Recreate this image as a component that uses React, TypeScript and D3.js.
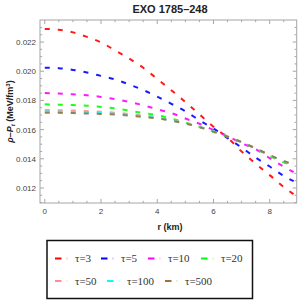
import React from 'react';
import * as d3 from 'd3';

const radius = [0, 0.5, 1, 1.5, 2, 2.5, 3, 3.5, 4, 4.5, 5, 5.5, 6, 6.5, 7, 7.5, 8, 8.5, 8.85];

const tau3 = [0.0229, 0.02284, 0.02266, 0.02235, 0.02198, 0.02143, 0.02087, 0.02024, 0.01947, 0.0187, 0.01789, 0.01705, 0.0162, 0.01545, 0.0145, 0.01366, 0.01288, 0.01206, 0.01157];
const tau5 = [0.02024, 0.02021, 0.02009, 0.01991, 0.01968, 0.01944, 0.01909, 0.01871, 0.01826, 0.01777, 0.01726, 0.01664, 0.01607, 0.01542, 0.01477, 0.01408, 0.01347, 0.01283, 0.01246];
const tau10 = [0.0185, 0.01847, 0.01842, 0.01835, 0.01824, 0.01809, 0.0179, 0.01767, 0.01739, 0.01713, 0.01676, 0.0164, 0.01597, 0.01556, 0.01506, 0.01466, 0.01404, 0.01346, 0.01308];
const tau20 = [0.01773, 0.01771, 0.01768, 0.01764, 0.01755, 0.01745, 0.0173, 0.01714, 0.01698, 0.01675, 0.01649, 0.01619, 0.01585, 0.01552, 0.01513, 0.0147, 0.0142, 0.01375, 0.0135];
const tau50 = [0.01734, 0.01733, 0.01731, 0.01727, 0.01722, 0.01716, 0.01707, 0.01697, 0.01684, 0.01667, 0.01646, 0.0162, 0.01588, 0.01553, 0.01514, 0.01471, 0.01424, 0.01383, 0.01358];
const tau100 = [0.01724, 0.01723, 0.01721, 0.01718, 0.01714, 0.01709, 0.01701, 0.01691, 0.01679, 0.01663, 0.01643, 0.01618, 0.01587, 0.01552, 0.01514, 0.01471, 0.01424, 0.01384, 0.01359];
const tau500 = [0.01716, 0.01715, 0.01713, 0.0171, 0.01707, 0.01703, 0.01696, 0.01687, 0.01676, 0.01661, 0.01641, 0.01617, 0.01586, 0.01552, 0.01514, 0.01472, 0.01425, 0.01385, 0.0136];

const seriesNames = ['τ=3', 'τ=5', 'τ=10', 'τ=20', 'τ=50', 'τ=100', 'τ=500'];
const seriesValues = [tau3, tau5, tau10, tau20, tau50, tau100, tau500];
const seriesColors = ['#ff0000', '#0000ff', '#ff00ff', '#00ff00', '#ff8f8f', '#00ffff', '#a0703c'];

const xTicks = [0, 2, 4, 6, 8];
const yTicks = [0.012, 0.014, 0.016, 0.018, 0.02, 0.022];

const left = 40;
const right = 296.7;
const top = 20;
const bottom = 203;

const App = () => {
  const x = d3.scaleLinear().domain([-0.17, 8.96]).range([left, right]);
  const y = d3.scaleLinear().domain([0.01097, 0.02351]).range([bottom, top]);

  const line = d3
    .line<number>()
    .x((d, i) => x(radius[i]))
    .y((d) => y(d))
    .curve(d3.curveMonotoneX);

  const xMinor = d3.range(0, 9.01, 0.5).filter((v) => x(v) < right - 1);
  const yMinor = d3.range(0.011, 0.0235, 0.0005);

  const frameColor = '#a6a6a6';
  const tickFont = { fontFamily: 'Liberation Sans, Arial, sans-serif', fontSize: 8, fill: '#444' };

  // legend placement (two rows)
  const legendRows = [
    [0, 1, 2, 3],
    [4, 5, 6]
  ];
  const legendX = [
    [55, 101, 148, 201],
    [55, 107, 165]
  ];
  const legendY = [258.5, 281];

  return (
    <svg width={300} height={300} style={{ position: 'absolute', left: 0, top: 0, background: '#fff' }}>
      <text x={170} y={13} textAnchor="middle" style={{ fontFamily: 'Liberation Sans, Arial, sans-serif', fontSize: 11, fontWeight: 700, fill: '#222' }}>
        EXO 1785–248
      </text>

      <rect x={left} y={top} width={right - left} height={bottom - top} fill="none" stroke={frameColor} strokeWidth={1} />

      {xMinor.map((v) => {
        const major = Math.abs(v % 2) < 1e-6;
        const len = major ? 4 : 2.2;
        return (
          <g key={'xt' + v}>
            <line x1={x(v)} x2={x(v)} y1={bottom} y2={bottom - len} stroke={frameColor} />
            <line x1={x(v)} x2={x(v)} y1={top} y2={top + len} stroke={frameColor} />
          </g>
        );
      })}
      {yMinor.map((v) => {
        const major = yTicks.some((t) => Math.abs(t - v) < 1e-7);
        const len = major ? 4 : 2.2;
        if (y(v) < top || y(v) > bottom) return null;
        return (
          <g key={'yt' + v}>
            <line x1={left} x2={left + len} y1={y(v)} y2={y(v)} stroke={frameColor} />
            <line x1={right} x2={right - len} y1={y(v)} y2={y(v)} stroke={frameColor} />
          </g>
        );
      })}

      {xTicks.map((t) => (
        <text key={'xl' + t} x={x(t)} y={bottom + 11} textAnchor="middle" style={tickFont}>
          {t}
        </text>
      ))}
      {yTicks.map((t) => (
        <text key={'yl' + t} x={left - 4} y={y(t) + 3} textAnchor="end" style={tickFont}>
          {d3.format('.3f')(t)}
        </text>
      ))}

      <text x={170} y={230} textAnchor="middle" style={{ fontFamily: 'Liberation Sans, Arial, sans-serif', fontSize: 9, fontWeight: 700, fill: '#222' }}>
        r (km)
      </text>
      <text
        transform={`translate(13, ${(top + bottom) / 2}) rotate(-90)`}
        textAnchor="middle"
        style={{ fontFamily: 'Liberation Sans, Arial, sans-serif', fontSize: 9, fontWeight: 700, fill: '#222' }}
      >
        <tspan fontStyle="italic">ρ</tspan>
        <tspan>–</tspan>
        <tspan fontStyle="italic">P</tspan>
        <tspan fontSize={6} dy={2} fontStyle="italic">t</tspan>
        <tspan dy={-2}> (MeV/fm</tspan>
        <tspan fontSize={6} dy={-3}>3</tspan>
        <tspan dy={3}>)</tspan>
      </text>

      <g>
        {seriesValues.map((vals, i) => (
          <path
            key={seriesNames[i]}
            d={line(vals) || ''}
            fill="none"
            stroke={seriesColors[i]}
            strokeWidth={2}
            strokeDasharray="5 8"
            opacity={0.9}
          />
        ))}
      </g>

      <rect x={47} y={240.5} width={205.5} height={58} fill="none" stroke="#111" strokeWidth={1.5} />
      {legendRows.map((row, r) =>
        row.map((idx, k) => {
          const lx = legendX[r][k];
          const ly = legendY[r];
          return (
            <g key={'lg' + idx}>
              <line x1={lx} x2={lx + 6.5} y1={ly} y2={ly} stroke={seriesColors[idx]} strokeWidth={2} />
              <line x1={lx + 11} x2={lx + 13} y1={ly} y2={ly} stroke={seriesColors[idx]} strokeWidth={2} opacity={0.15} />
              <text x={lx + 20} y={ly + 3.5} style={{ fontFamily: 'Liberation Serif, Times New Roman, serif', fontSize: 11, fill: '#333' }}>
                {seriesNames[idx]}
              </text>
            </g>
          );
        })
      )}
    </svg>
  );
};

export default App;
